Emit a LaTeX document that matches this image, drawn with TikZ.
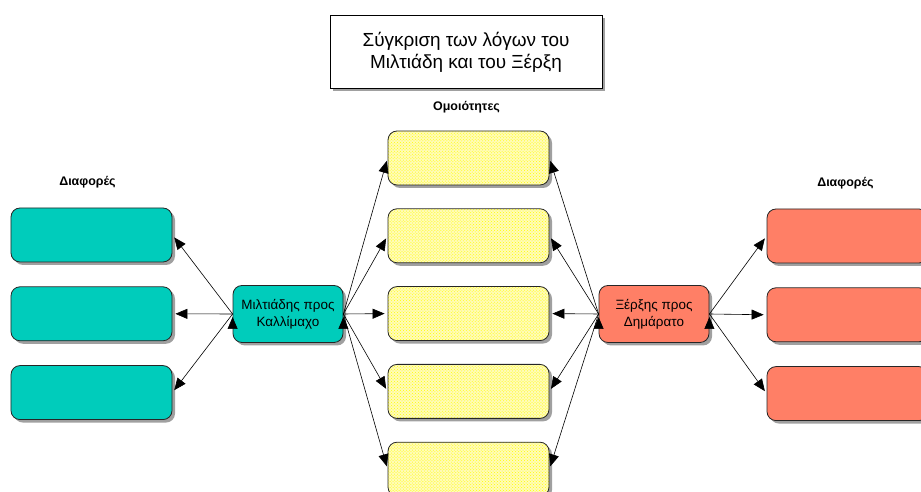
\documentclass[tikz,border=0pt]{standalone}
\usepackage{fontspec}
\setmainfont{Liberation Sans}
\usetikzlibrary{positioning, arrows.meta, shadows, patterns}
\definecolor{tealbox}{RGB}{0,204,187}
\definecolor{salmonbox}{RGB}{255,127,102}
\tikzset{
    >={Triangle[length=12bp,width=10bp]}, % filled arrow heads
    node distance=24bp, % gap between the stacked boxes
    shade/.style={drop shadow={shadow xshift=3bp, shadow yshift=-3bp, opacity=.75}},
    box/.style={shade, draw=black!85, line width=.8bp, rounded corners=9bp, minimum width=161bp, minimum height=54bp},
    speaker/.style={shade, draw=black!85, line width=.8bp, rounded corners=9bp, minimum width=110bp, minimum height=57bp,
        align=center, font=\fontsize{13.5}{17}\selectfont},
    same/.style={box, preaction={fill=yellow!28}, pattern=crosshatch dots, pattern color=yellow},
    heading/.style={font=\bfseries\fontsize{12.5}{14}\selectfont},
    link/.style={->, line width=.6bp, shorten >=3bp},
}
\begin{document}
\begin{tikzpicture}[x=1bp, y=1bp]
    \useasboundingbox (0,0) rectangle (921,492);
    \clip (0,0) rectangle (921,492);

    % title
    \node[shade, draw, line width=.8bp, fill=white, minimum width=272bp, minimum height=73bp, align=center,
          font=\fontsize{19}{22}\selectfont] (title) at (466,440) {Σύγκριση των λόγων του\\Μιλτιάδη και του Ξέρξη};

    % the two speeches
    \node[speaker, fill=tealbox] (milt) at (288,178) {Μιλτιάδης προς\\Καλλίμαχο};
    \node[speaker, fill=salmonbox] (xer) at (654,178) {Ξέρξης προς\\Δημάρατο};

    % common points
    \node[same] (sim1) at (468.5,334) {};
    \node[same, below=23bp of sim1] (sim2) {};
    \node[same, below=23bp of sim2] (sim3) {};
    \node[same, below=23bp of sim3] (sim4) {};
    \node[same, below=23bp of sim4] (sim5) {};
    \node[heading, above=14bp of sim1, xshift=-2bp] (simhead) {Ομοιότητες};

    % differences, left
    \node[box, fill=tealbox] (mdif1) at (91.5,257) {};
    \node[box, fill=tealbox, below=of mdif1] (mdif2) {};
    \node[box, fill=tealbox, below=of mdif2] (mdif3) {};
    \node[heading, above=16bp of mdif1, xshift=-4bp] (mhead) {Διαφορές};

    % differences, right
    \node[box, fill=salmonbox] (xdif1) at (847.5,256) {};
    \node[box, fill=salmonbox, below=of xdif1] (xdif2) {};
    \node[box, fill=salmonbox, below=of xdif2] (xdif3) {};
    \node[heading, above=16bp of xdif1, xshift=-2bp] (xhead) {Διαφορές};

    \draw[link] (milt.west) edge (mdif1.east)
        (milt.west) edge (mdif2.east)
        (milt.west) edge (mdif3.east);
    \draw[link] (milt.east) edge (sim1.west)
        (milt.east) edge (sim2.west)
        (milt.east) edge (sim3.west)
        (milt.east) edge (sim4.west)
        (milt.east) edge (sim5.west);
    \draw[link] (xer.west) edge (sim1.east)
        (xer.west) edge (sim2.east)
        (xer.west) edge (sim3.east)
        (xer.west) edge (sim4.east)
        (xer.west) edge (sim5.east);
    \draw[link] (xer.east) edge (xdif1.west)
        (xer.east) edge (xdif2.west)
        (xer.east) edge (xdif3.west);
\end{tikzpicture}
\end{document}
